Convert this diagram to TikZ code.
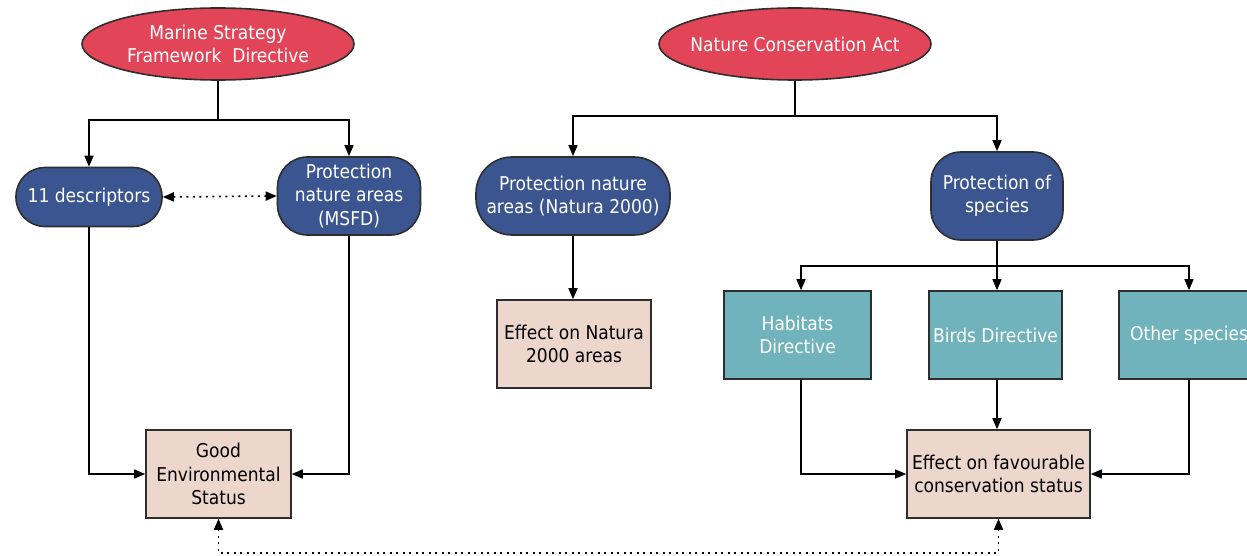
\documentclass[tikz,border=0pt]{standalone}
\usepackage{fontspec}
\setmainfont{DejaVu Sans Condensed}
\usetikzlibrary{shapes.geometric,arrows.meta}
\definecolor{redfill}{HTML}{E24557}
\definecolor{bluefill}{HTML}{3B5590}
\definecolor{tealfill}{HTML}{70B3BC}
\definecolor{pinkfill}{HTML}{EDD6CC}
\definecolor{edge}{HTML}{2E2E2E}
\tikzset{
  base/.style={draw=edge, line width=1.6pt, inner sep=0pt, align=center,
    font=\fontsize{19}{23.5}\selectfont},
  oval/.style={base, ellipse, fill=redfill, text=white, minimum width=272pt, minimum height=72pt},
  pill/.style={base, rectangle, rounded corners=29pt, fill=bluefill, text=white},
  tealbox/.style={base, rectangle, fill=tealfill, text=white, minimum height=88pt},
  pinkbox/.style={base, rectangle, fill=pinkfill, text=black, minimum height=88pt},
  conn/.style={draw=black, line width=1.5pt},
  arr/.style={conn, -{Triangle[length=11pt,width=9pt]}},
  dotarr/.style={conn, line width=1.7pt, dash pattern=on 2pt off 4.5pt, {Triangle[length=11pt,width=9pt]}-{Triangle[length=11pt,width=9pt]}},
}
\begin{document}
\begin{tikzpicture}[x=1pt,y=-1pt]
\useasboundingbox (0,0) rectangle (1247,556);

\node[oval] (msfd) at (218,44) {Marine Strategy\\Framework\ \ Directive};
\node[oval, inner xsep=-10pt] (nca) at (795,44) {Nature Conservation Act};

\node[pill, minimum width=146pt, minimum height=59pt] (desc) at (89,197) {11 descriptors};
\node[pill, minimum width=143pt, minimum height=78pt, rounded corners=30pt] (pmsfd) at (349,196) {Protection\\nature areas\\(MSFD)};
\node[pill, minimum width=194pt, minimum height=78pt, rounded corners=36pt] (pnat) at (573,196) {Protection nature\\areas (Natura 2000)};
\node[pill, minimum width=132pt, minimum height=88pt, rounded corners=30pt] (pspec) at (997,196) {Protection of\\species};

\node[pinkbox, minimum width=154pt] (enat) at (574,344) {Effect on Natura\\2000 areas};
\node[tealbox, minimum width=147pt] (hab) at (797.5,335) {Habitats\\Directive};
\node[tealbox, minimum width=133pt] (bird) at (995.5,335) {Birds Directive};
\node[tealbox, minimum width=140pt] (oth) at (1189,335) {Other species};

\node[pinkbox, minimum width=145pt] (ges) at (218.5,474) {Good\\Environmental\\Status};
\node[pinkbox, minimum width=183pt] (efc) at (998.5,474) {Effect on favourable\\conservation status};

% MSFD branch
\coordinate (j1) at (218,120);
\draw[conn] (msfd.south) -- (j1);
\draw[arr] (j1) -| (desc.north);
\draw[arr] (j1) -| (pmsfd.north);
\draw[dotarr] (desc.east) -- (pmsfd.west);
\draw[arr] (desc.south) |- (ges.west);
\draw[arr] (pmsfd.south) |- (ges.east);

% NCA branch
\coordinate (j2) at (795,116);
\draw[conn] (nca.south) -- (j2);
\draw[arr] (j2) -| (pnat.north);
\draw[arr] (j2) -| (pspec.north);
\draw[arr] (pnat.south) -- (pnat.south |- enat.north);

\coordinate (j3) at (997,266);
\draw[conn] (pspec.south) -- (j3);
\draw[arr] (j3) -| (hab.north -| 801,0);
\draw[arr] (j3) -- (j3 |- bird.north);
\draw[arr] (j3) -| (oth.north);

\draw[arr] (hab.south -| 801,0) |- (efc.west);
\draw[arr] (bird.south -| 997,0) -- (efc.north -| 997,0);
\draw[arr] (oth.south) |- (efc.east);

% dotted link
\draw[dotarr] (ges.south) -- (ges.south |- 0,553) -| (efc.south);
\end{tikzpicture}
\end{document}
